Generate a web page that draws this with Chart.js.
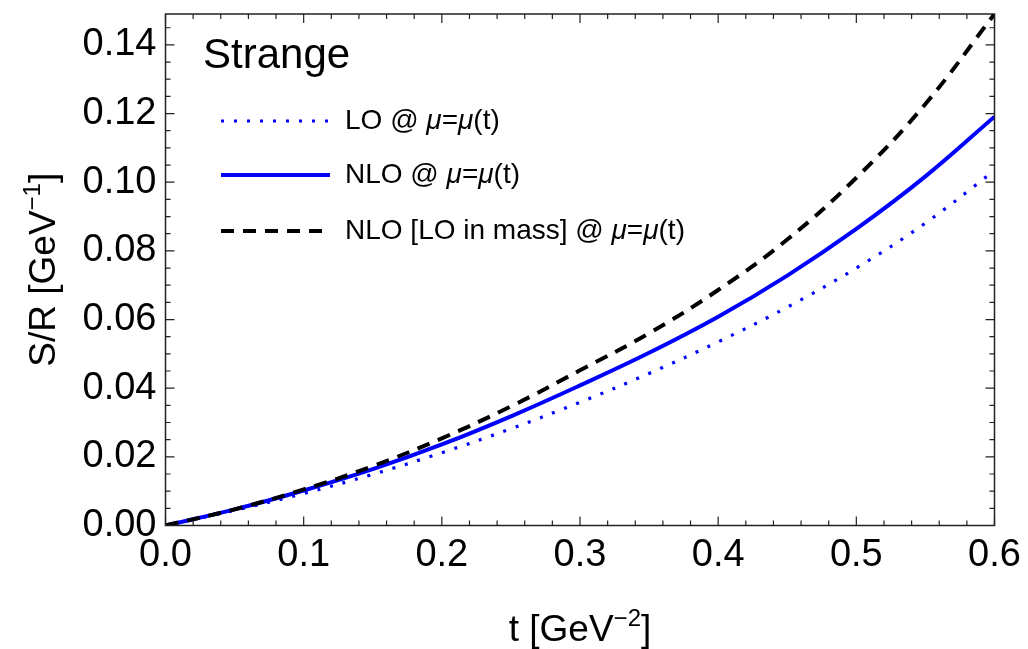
<!DOCTYPE html>
<html>
<head>
<meta charset="utf-8">
<script src="https://cdn.jsdelivr.net/npm/chart.js@4.4.1/dist/chart.umd.min.js"></script>
<style>
  html, body { margin: 0; padding: 0; background: #fff; }
  #wrap { width: 1028px; height: 649px; }
</style>
</head>
<body>
<div id="wrap"><canvas id="srChart"></canvas></div>
<script>
'use strict';

/*---- data: strange-quark S/R vs t ----*/
var tValues = [0, 0.05, 0.1, 0.15, 0.2, 0.25, 0.3, 0.35, 0.4, 0.45, 0.5, 0.55, 0.6];
var loValues = [0, 0.0044, 0.0093, 0.0149, 0.0212, 0.0282, 0.0359, 0.0443, 0.0535, 0.0636, 0.0750, 0.0881, 0.1034];
var nloValues = [0, 0.0047, 0.0102, 0.0164, 0.0236, 0.0318, 0.0408, 0.0503, 0.0608, 0.0728, 0.0864, 0.1017, 0.1191];
var nloLoMassValues = [0, 0.0047, 0.0105, 0.0173, 0.0254, 0.0347, 0.0452, 0.0560, 0.0686, 0.0833, 0.1013, 0.1228, 0.1490];

var seriesLabels = ['LO @ μ=μ(t)', 'NLO @ μ=μ(t)', 'NLO [LO in mass] @ μ=μ(t)'];
var xTicks = [0, 0.1, 0.2, 0.3, 0.4, 0.5, 0.6];
var yTicks = [0, 0.02, 0.04, 0.06, 0.08, 0.10, 0.12, 0.14];
var panelTitle = 'Strange';

var FONT = "'Liberation Sans', Arial, sans-serif";

function points(ys) {
	return tValues.map(function(t, i) { return { x: t, y: ys[i] }; });
}

// no extra room for overflowing tick labels, the frame is placed by layout padding
function noOverflow(scale) {
	scale.paddingTop = 0;
	scale.paddingBottom = 0;
	scale.paddingLeft = 0;
	scale.paddingRight = 0;
}

/*---- frame with inward ticks, legend and axis titles ----*/
var framePlugin = {
	id: 'frame',
	afterDraw: function(chart) {
		var ctx = chart.ctx, a = chart.chartArea;
		var xs = chart.scales.x, ys = chart.scales.y;
		ctx.save();
		ctx.strokeStyle = '#222';
		ctx.lineWidth = 1.5;
		ctx.setLineDash([]);
		ctx.strokeRect(a.left, a.top, a.right - a.left, a.bottom - a.top);

		ctx.lineWidth = 1.2;
		// x ticks, every 0.02, major every 0.1
		for (var i = 0; i <= 30; i++) {
			var px = xs.getPixelForValue(i * 0.02);
			var len = (i % 5 === 0) ? 9 : 5;
			ctx.beginPath();
			ctx.moveTo(px, a.bottom); ctx.lineTo(px, a.bottom - len);
			ctx.moveTo(px, a.top); ctx.lineTo(px, a.top + len);
			ctx.stroke();
		}
		// y ticks, every 0.005, major every 0.02
		for (var j = 0; j * 0.005 <= ys.max + 1e-9; j++) {
			var py = ys.getPixelForValue(j * 0.005);
			var l2 = (j % 4 === 0) ? 9 : 5;
			ctx.beginPath();
			ctx.moveTo(a.left, py); ctx.lineTo(a.left + l2, py);
			ctx.moveTo(a.right, py); ctx.lineTo(a.right - l2, py);
			ctx.stroke();
		}

		// panel title
		ctx.fillStyle = '#000';
		ctx.textBaseline = 'middle';
		ctx.textAlign = 'left';
		ctx.font = '42px ' + FONT;
		ctx.fillText(panelTitle, 203, 56);

		// legend
		var rows = [121, 175, 231];
		chart.data.datasets.forEach(function(ds, k) {
			var y = rows[k];
			ctx.strokeStyle = ds.borderColor;
			ctx.lineWidth = ds.borderWidth;
			ctx.lineCap = 'butt';
			ctx.setLineDash(ds.borderDash || []);
			ctx.beginPath();
			ctx.moveTo(221, y); ctx.lineTo(330, y);
			ctx.stroke();
			ctx.setLineDash([]);
			// label, with italic mu
			var parts = ds.label.split('μ');
			var x = 345;
			ctx.fillStyle = '#000';
			parts.forEach(function(p, n) {
				if (n > 0) {
					ctx.font = 'italic 28px ' + FONT;
					ctx.fillText('μ', x, y);
					x += ctx.measureText('μ').width;
				}
				ctx.font = '28px ' + FONT;
				ctx.fillText(p, x, y);
				x += ctx.measureText(p).width;
			});
		});

		// axis titles with superscripts
		function titled(base, sup, tail) {
			ctx.font = '37px ' + FONT;
			var w1 = ctx.measureText(base).width;
			var w3 = ctx.measureText(tail).width;
			ctx.font = '24px ' + FONT;
			var w2 = ctx.measureText(sup).width;
			var x0 = -(w1 + w2 + w3) / 2;
			ctx.textAlign = 'left';
			ctx.textBaseline = 'alphabetic';
			ctx.font = '37px ' + FONT;
			ctx.fillText(base, x0, 13);
			ctx.font = '24px ' + FONT;
			ctx.fillText(sup, x0 + w1, -2);
			ctx.font = '37px ' + FONT;
			ctx.fillText(tail, x0 + w1 + w2, 13);
		}
		ctx.save();
		ctx.translate((a.left + a.right) / 2, 628);
		titled('t [GeV', '\u22122', ']');
		ctx.restore();

		ctx.save();
		ctx.translate(42, (a.top + a.bottom) / 2);
		ctx.rotate(-Math.PI / 2);
		titled('S/R [GeV', '\u22121', ']');
		ctx.restore();

		ctx.restore();
	}
};

var ctx = document.getElementById('srChart').getContext('2d');
var srChart = new Chart(ctx, {
	type: 'line',
	data: {
		datasets: [{
			label: seriesLabels[0],
			data: points(loValues),
			borderColor: '#0000ff',
			borderWidth: 3.2,
			borderDash: [3, 10],
			order: 3
		}, {
			label: seriesLabels[1],
			data: points(nloValues),
			borderColor: '#0000ff',
			borderWidth: 4,
			order: 2
		}, {
			label: seriesLabels[2],
			data: points(nloLoMassValues),
			borderColor: '#000000',
			borderWidth: 4,
			borderDash: [13, 9],
			order: 1
		}]
	},
	options: {
		responsive: true,
		maintainAspectRatio: false,
		animation: false,
		layout: { padding: { top: 14, right: 33.5, left: 0, bottom: 0 } },
		elements: {
			point: { radius: 0 },
			line: { tension: 0.4, fill: false, borderCapStyle: 'butt' }
		},
		plugins: {
			legend: { display: false },
			tooltip: { enabled: false }
		},
		scales: {
			x: {
				type: 'linear',
				min: 0,
				max: 0.6,
				grid: { display: false, drawTicks: false },
				border: { display: false },
				afterBuildTicks: function(scale) {
					scale.ticks = xTicks.map(function(v) { return { value: v }; });
				},
				afterFit: function(scale) {
					scale.height = 123.5;
					noOverflow(scale);
				},
				ticks: {
					color: '#000',
					padding: 7,
					maxRotation: 0,
					font: { family: FONT, size: 38 },
					callback: function(v) { return Number(v).toFixed(1); }
				}
			},
			y: {
				type: 'linear',
				min: 0,
				max: 0.149,
				grid: { display: false, drawTicks: false },
				border: { display: false },
				afterBuildTicks: function(scale) {
					scale.ticks = yTicks.map(function(v) { return { value: v }; });
				},
				afterFit: function(scale) {
					scale.width = 165.5;
					noOverflow(scale);
				},
				ticks: {
					color: '#000',
					padding: 9,
					font: { family: FONT, size: 38 },
					callback: function(v) { return Number(v).toFixed(2); }
				}
			}
		}
	},
	plugins: [framePlugin]
});
</script>
</body>
</html>
